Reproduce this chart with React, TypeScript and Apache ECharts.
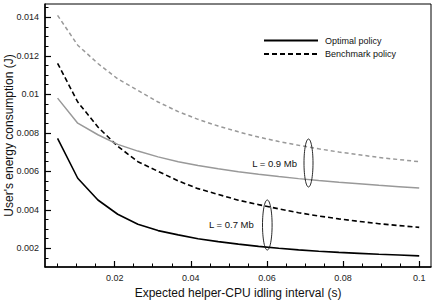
import React, { useEffect, useRef } from "react";
import * as echarts from "echarts";

// Expected helper-CPU idling interval (s)
const xValues = [0.005, 0.0103, 0.0156, 0.0208, 0.0261, 0.0314, 0.0367, 0.0419, 0.0472, 0.0525, 0.0578, 0.0631, 0.0683, 0.0736, 0.0789, 0.0842, 0.0894, 0.0947, 0.1];

// L = 0.7 Mb
const optimal07 = [0.00771, 0.00564, 0.00451, 0.00377, 0.00325, 0.00292, 0.0027, 0.0025, 0.00235, 0.00222, 0.0021, 0.002, 0.00192, 0.00185, 0.00179, 0.00174, 0.00169, 0.00165, 0.00161];
const benchmark07 = [0.01161, 0.0096, 0.0083, 0.0073, 0.0065, 0.006, 0.0055, 0.0051, 0.0048, 0.0045, 0.00427, 0.00405, 0.00385, 0.00368, 0.00353, 0.0034, 0.00328, 0.00318, 0.00309];
// L = 0.9 Mb
const optimal09 = [0.0098, 0.0085, 0.0079, 0.0074, 0.00705, 0.00675, 0.0065, 0.0063, 0.00613, 0.00598, 0.00585, 0.00573, 0.00562, 0.00552, 0.00543, 0.00535, 0.00527, 0.0052, 0.00513];
const benchmark09 = [0.0141, 0.01255, 0.0116, 0.0108, 0.0102, 0.0096, 0.0091, 0.0087, 0.00835, 0.00805, 0.00778, 0.00755, 0.00735, 0.00717, 0.007, 0.00686, 0.00672, 0.00661, 0.0065];

const xMajorTicks = [0.02, 0.04, 0.06, 0.08, 0.1];
const xMinorTicks = [0.005, 0.01, 0.015, 0.025, 0.03, 0.035, 0.045, 0.05, 0.055, 0.065, 0.07, 0.075, 0.085, 0.09, 0.095];
const yMajorTicks = [0.002, 0.004, 0.006, 0.008, 0.01, 0.012, 0.014];
const yMinorTicks = [0.0015, 0.0025, 0.003, 0.0035, 0.0045, 0.005, 0.0055, 0.0065, 0.007, 0.0075, 0.0085, 0.009, 0.0095, 0.0105, 0.011, 0.0115, 0.0125, 0.013, 0.0135, 0.0145];

const seriesNames = ["Optimal policy", "Benchmark policy"];
const annotationLabels = ["L = 0.9 Mb", "L = 0.7 Mb"];
const xAxisTitle = "Expected helper-CPU idling interval (s)";
const yAxisTitle = "User's energy consumption (J)";

const FONT = "'Liberation Sans', Arial, Helvetica, sans-serif";

const zip = (ys: number[]) => xValues.map((x, i) => [x, ys[i]]);

export default function App() {
  const ref = useRef<HTMLDivElement>(null);
  useEffect(() => {
    if (!ref.current) return;
    const chart = echarts.init(ref.current, undefined, { renderer: "svg" });
    const xMin = 0.0017, xMax = 0.1031, yMin = 0.00103, yMax = 0.01469;
    const axisLabelStyle = { fontFamily: FONT, fontSize: 9, color: "#222" };
    const fmt = (v: number) => String(Number(v.toPrecision(6)));
    chart.setOption({
      animation: false,
      backgroundColor: "#fff",
      grid: { left: 45, right: 5, top: 4, bottom: 36, show: true, borderColor: "#000", borderWidth: 1, backgroundColor: "transparent", containLabel: false, outerBoundsMode: "none" },
      legend: {
        orient: "vertical",
        left: 263,
        top: 36,
        padding: 0,
        itemWidth: 54,
        itemHeight: 10,
        itemGap: 4.5,
        itemStyle: { opacity: 0 },
        textStyle: { fontFamily: FONT, fontSize: 9, color: "#111", padding: [0, 0, 0, 2] },
        data: seriesNames,
      },
      xAxis: [
        {
          type: "value", min: xMin, max: xMax, position: "bottom",
          name: xAxisTitle, nameLocation: "middle", nameGap: 20, nameMoveOverlap: false,
          nameTextStyle: { fontFamily: FONT, fontSize: 12, color: "#111" },
          axisLine: { lineStyle: { color: "#000", width: 1.5 } },
          axisTick: { inside: true, length: 6, customValues: xMajorTicks, lineStyle: { color: "#000", width: 1.2 } },
          axisLabel: { ...axisLabelStyle, margin: 6, customValues: xMajorTicks, formatter: fmt },
          splitLine: { show: false },
        },
        {
          type: "value", min: xMin, max: xMax, position: "bottom",
          axisLine: { show: false },
          axisTick: { inside: true, length: 3.5, customValues: xMinorTicks, lineStyle: { color: "#000", width: 1 } },
          axisLabel: { show: false },
          splitLine: { show: false },
        },
      ],
      yAxis: [
        {
          type: "value", min: yMin, max: yMax, position: "left",
          name: yAxisTitle, nameLocation: "middle", nameGap: 30, nameMoveOverlap: false,
          nameTextStyle: { fontFamily: FONT, fontSize: 12, color: "#111" },
          axisLine: { lineStyle: { color: "#000", width: 1.5 } },
          axisTick: { inside: true, length: 6, customValues: yMajorTicks, lineStyle: { color: "#000", width: 1.2 } },
          axisLabel: { ...axisLabelStyle, margin: 6, customValues: yMajorTicks, formatter: fmt },
          splitLine: { show: false },
        },
        {
          type: "value", min: yMin, max: yMax, position: "left",
          axisLine: { show: false },
          axisTick: { inside: true, length: 3.5, customValues: yMinorTicks, lineStyle: { color: "#000", width: 1 } },
          axisLabel: { show: false },
          splitLine: { show: false },
        },
      ],
      series: [
        { name: seriesNames[0], type: "line", data: zip(optimal07), symbol: "none", lineStyle: { color: "#000", width: 1.6, type: "solid" }, itemStyle: { color: "#000" } },
        { name: seriesNames[1], type: "line", data: zip(benchmark07), symbol: "none", lineStyle: { color: "#000", width: 1.6, type: [5, 3] }, itemStyle: { color: "#000" } },
        { name: seriesNames[0], type: "line", data: zip(optimal09), symbol: "none", lineStyle: { color: "#999", width: 1.5, type: "solid" }, itemStyle: { color: "#999" } },
        { name: seriesNames[1], type: "line", data: zip(benchmark09), symbol: "none", lineStyle: { color: "#999", width: 1.5, type: [4, 3] }, itemStyle: { color: "#999" } },
      ],
      graphic: [
        { type: "ellipse", shape: { cx: 308.5, cy: 163, rx: 4.5, ry: 24 }, style: { fill: "none", stroke: "#111", lineWidth: 0.9 }, z: 10 },
        { type: "ellipse", shape: { cx: 267.3, cy: 225, rx: 4.8, ry: 25 }, style: { fill: "none", stroke: "#111", lineWidth: 0.9 }, z: 10 },
        { type: "text", x: 297, y: 163.5, style: { text: annotationLabels[0], fontFamily: FONT, fontSize: 9.5, fill: "#111", align: "right", verticalAlign: "middle" }, z: 10 },
        { type: "text", x: 209, y: 224.5, style: { text: annotationLabels[1], fontFamily: FONT, fontSize: 9.5, fill: "#111", align: "left", verticalAlign: "middle" }, z: 10 },
      ],
    });
    return () => chart.dispose();
  }, []);
  return <div ref={ref} style={{ position: "fixed", left: 0, top: 0, width: 436, height: 303 }} />;
}
